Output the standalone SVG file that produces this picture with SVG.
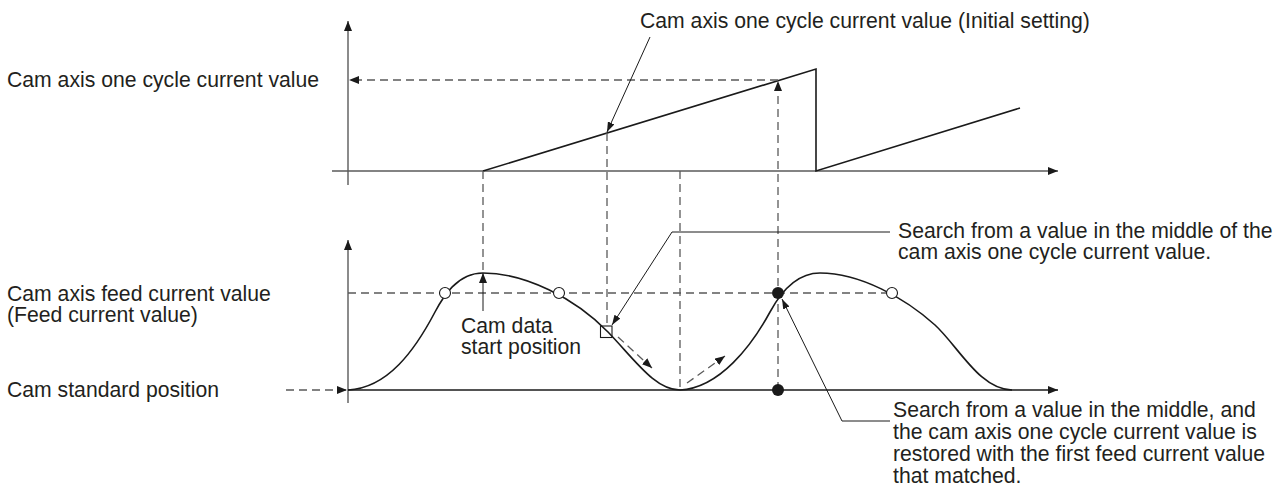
<svg xmlns="http://www.w3.org/2000/svg" width="1285" height="497" viewBox="0 0 1285 497">
  <style>
    .t { font-family: "Liberation Sans", Arial, sans-serif; font-size: 21.2px; fill: #231f20; }
    .axis { stroke: #5a5a5a; stroke-width: 1.4; fill: none; }
    .curve { stroke: #1a1a1a; stroke-width: 1.6; fill: none; }
    .dash { stroke: #5a5a5a; stroke-width: 1.3; fill: none; stroke-dasharray: 8 5; }
    .lead { stroke: #1a1a1a; stroke-width: 1; fill: none; }
    .open { fill: #fff; stroke: #1a1a1a; stroke-width: 1.1; }
    .box { fill: none; stroke: #1a1a1a; stroke-width: 1.1; }
    .dot { fill: #1a1a1a; }
  </style>
  <defs>
    <marker id="ah" viewBox="0 0 10 8" refX="10" refY="4" markerWidth="10" markerHeight="8" markerUnits="userSpaceOnUse" orient="auto">
      <path d="M0,0 L10,4 L0,8 z" fill="#1a1a1a"/>
    </marker>
    <marker id="ahs" viewBox="0 0 10 7" refX="10" refY="3.5" markerWidth="10" markerHeight="7" markerUnits="userSpaceOnUse" orient="auto">
      <path d="M0,0 L10,3.5 L0,7 z" fill="#1a1a1a"/>
    </marker>
  </defs>

  <g id="upper-chart">
    <line class="axis" x1="348" y1="185" x2="348" y2="21" marker-end="url(#ah)"/>
    <line class="axis" x1="332" y1="171" x2="1058" y2="171" marker-end="url(#ah)"/>
    <polyline class="curve" points="483,171 816,69 816,171 1020,108"/>
  </g>

  <g id="lower-chart">
    <line class="axis" x1="348" y1="403" x2="348" y2="240" marker-end="url(#ah)"/>
    <line class="curve" x1="348" y1="390" x2="1058" y2="390" marker-end="url(#ah)"/>
    <path class="curve" d="M348,390 C388,388 415,350 435,312 C443,297 457,273 483,273 C525,273 575,298 608,332 C635,360 655,390 680,390 C720,388 752,345 770,312 C777,299 793,273 820,273 C860,273 905,298 935,325 C958,346 980,390 1012,390"/>
  </g>

  <g id="connectors">
    <line class="dash" x1="778" y1="80" x2="349" y2="80" marker-end="url(#ah)"/>
    <line class="dash" x1="778" y1="390" x2="778" y2="81" marker-end="url(#ah)"/>
    <line class="dash" x1="483" y1="171" x2="483" y2="272"/>
    <line class="dash" x1="607" y1="133" x2="607" y2="326"/>
    <line class="dash" x1="680" y1="171" x2="680" y2="390"/>
    <line class="dash" x1="348" y1="293" x2="886" y2="293"/>
    <line class="dash" x1="286" y1="390" x2="347" y2="390" marker-end="url(#ah)"/>
    <line class="dash" x1="618" y1="337" x2="652" y2="368" marker-end="url(#ah)"/>
    <line class="dash" x1="687" y1="383" x2="725" y2="356" marker-end="url(#ah)"/>
    <line class="lead" x1="483" y1="311" x2="483" y2="273" marker-end="url(#ah)"/>
    <line class="lead" x1="650" y1="37" x2="607" y2="132" marker-end="url(#ahs)"/>
    <polyline class="lead" points="890,232 672,232 612,325" marker-end="url(#ahs)"/>
    <polyline class="lead" points="890,421 842,421 782,299" marker-end="url(#ahs)"/>
  </g>

  <g id="markers">
    <circle class="open" cx="445" cy="293" r="5.5"/>
    <circle class="open" cx="559" cy="293" r="5.5"/>
    <circle class="open" cx="892" cy="293" r="5.5"/>
    <rect class="box" x="600.5" y="326" width="11.5" height="11.5"/>
    <circle class="dot" cx="778" cy="293" r="6"/>
    <circle class="dot" cx="778" cy="390" r="6"/>
  </g>

  <g id="labels">
    <text class="t" x="640" y="28">Cam axis one cycle current value (Initial setting)</text>
    <text class="t" x="7" y="87">Cam axis one cycle current value</text>
    <text class="t" x="7" y="301">Cam axis feed current value</text>
    <text class="t" x="7" y="322">(Feed current value)</text>
    <text class="t" x="7" y="397">Cam standard position</text>
    <text class="t" x="461" y="333">Cam data</text>
    <text class="t" x="461" y="354">start position</text>
    <text class="t" x="898" y="238">Search from a value in the middle of the</text>
    <text class="t" x="898" y="259">cam axis one cycle current value.</text>
    <text class="t" x="893" y="417">Search from a value in the middle, and</text>
    <text class="t" x="893" y="439">the cam axis one cycle current value is</text>
    <text class="t" x="893" y="461">restored with the first feed current value</text>
    <text class="t" x="893" y="483">that matched.</text>
  </g>
</svg>
